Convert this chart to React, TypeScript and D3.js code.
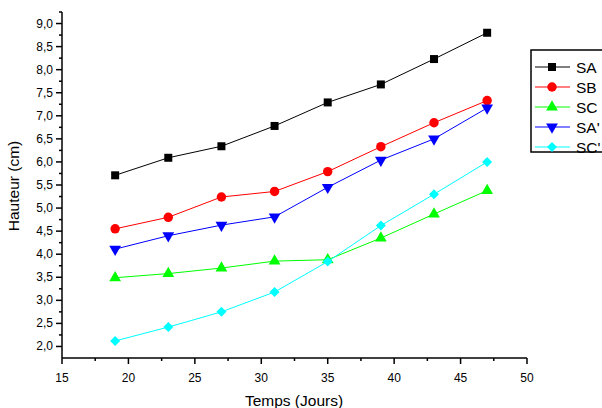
import React, { useRef, useEffect } from 'react';
import * as d3 from 'd3';

const days = [19, 23, 27, 31, 35, 39, 43, 47];
const SA = [5.71, 6.09, 6.34, 6.78, 7.29, 7.68, 8.23, 8.8];
const SB = [4.55, 4.8, 5.24, 5.36, 5.79, 6.33, 6.85, 7.33];
const SC = [3.49, 3.58, 3.7, 3.85, 3.88, 4.35, 4.87, 5.38];
const SAp = [4.11, 4.4, 4.63, 4.81, 5.45, 6.04, 6.5, 7.17];
const SCp = [2.12, 2.42, 2.75, 3.18, 3.84, 4.62, 5.3, 6.0];

const seriesNames = ['SA', 'SB', 'SC', "SA'", "SC'"];
const seriesValues = [SA, SB, SC, SAp, SCp];
const seriesColors = ['#000000', '#ff0000', '#00ff00', '#0000ff', '#00ffff'];
const seriesSymbols = [d3.symbolSquare, d3.symbolCircle, d3.symbolTriangle, d3.symbolTriangle, d3.symbolSquare];
const symbolSizes = [64, 70, 60, 60, 50];
const symbolRotations = [0, 0, 0, 180, 45];

const xTicks = [15, 20, 25, 30, 35, 40, 45, 50];
const yTicks = [2, 2.5, 3, 3.5, 4, 4.5, 5, 5.5, 6, 6.5, 7, 7.5, 8, 8.5, 9];

const FONT = 'Arial, "Liberation Sans", sans-serif';

const App = () => {
  const svgRef = useRef<SVGSVGElement>(null);

  useEffect(() => {
    const svg = d3.select(svgRef.current);
    svg.selectAll('*').remove();

    const x = d3.scaleLinear().domain([15, 50]).range([62, 527]);
    const y = d3.scaleLinear().domain([1.75, 9.25]).range([358, 12]);

    // X axis
    const xAxis = svg.append('g').attr('transform', 'translate(0,358)');
    xAxis.append('line')
      .attr('x1', 62).attr('x2', 527).attr('y1', 0).attr('y2', 0)
      .attr('stroke', '#000').attr('stroke-width', 1.5);
    d3.range(15, 50.01, 2.5).forEach(v => {
      const major = v % 5 === 0;
      xAxis.append('line')
        .attr('x1', x(v)).attr('x2', x(v)).attr('y1', 0).attr('y2', major ? 6 : 3)
        .attr('stroke', '#000').attr('stroke-width', 1.5);
    });
    xAxis.selectAll('text.tick')
      .data(xTicks)
      .enter()
      .append('text')
      .attr('x', d => x(d))
      .attr('y', 24)
      .attr('text-anchor', 'middle')
      .attr('font-family', FONT)
      .attr('font-size', 12)
      .attr('fill', '#000')
      .text(d => d);

    // Y axis
    const yAxis = svg.append('g').attr('transform', 'translate(62,0)');
    yAxis.append('line')
      .attr('x1', 0).attr('x2', 0).attr('y1', 12).attr('y2', 358)
      .attr('stroke', '#000').attr('stroke-width', 1.5);
    d3.range(2, 9.26, 0.25).forEach(v => {
      const major = Math.abs(v * 2 - Math.round(v * 2)) < 1e-6;
      yAxis.append('line')
        .attr('x1', major ? -6 : -3).attr('x2', 0).attr('y1', y(v)).attr('y2', y(v))
        .attr('stroke', '#000').attr('stroke-width', 1.5);
    });
    yAxis.selectAll('text.tick')
      .data(yTicks)
      .enter()
      .append('text')
      .attr('x', -9)
      .attr('y', d => y(d) + 4)
      .attr('text-anchor', 'end')
      .attr('font-family', FONT)
      .attr('font-size', 12)
      .attr('fill', '#000')
      .text(d => d.toFixed(1).replace('.', ','));

    // Axis titles
    svg.append('text')
      .attr('x', 294)
      .attr('y', 406)
      .attr('text-anchor', 'middle')
      .attr('font-family', FONT)
      .attr('font-size', 15.5)
      .text('Temps (Jours)');

    svg.append('text')
      .attr('transform', 'translate(19,186) rotate(-90)')
      .attr('text-anchor', 'middle')
      .attr('font-family', FONT)
      .attr('font-size', 15.5)
      .text('Hauteur (cm)');

    // Series
    const line = d3.line<number>()
      .x((d, i) => x(days[i]))
      .y(d => y(d));

    seriesValues.forEach((vals, s) => {
      svg.append('path')
        .attr('d', line(vals))
        .attr('fill', 'none')
        .attr('stroke', seriesColors[s])
        .attr('stroke-width', 1);
      const sym = d3.symbol().type(seriesSymbols[s]).size(symbolSizes[s]);
      svg.append('g')
        .selectAll('path')
        .data(vals)
        .enter()
        .append('path')
        .attr('d', sym())
        .attr('transform', (d, i) => `translate(${x(days[i])},${y(d)}) rotate(${symbolRotations[s]})`)
        .attr('fill', seriesColors[s]);
    });

    // Legend
    const legend = svg.append('g');
    legend.append('rect')
      .attr('x', 531).attr('y', 50).attr('width', 90).attr('height', 102)
      .attr('fill', '#fff').attr('stroke', '#000').attr('stroke-width', 1.5);
    seriesNames.forEach((name, s) => {
      const ly = 67 + s * 20;
      legend.append('line')
        .attr('x1', 535).attr('x2', 570).attr('y1', ly).attr('y2', ly)
        .attr('stroke', seriesColors[s]).attr('stroke-width', 1);
      const sym = d3.symbol().type(seriesSymbols[s]).size(symbolSizes[s]);
      legend.append('path')
        .attr('d', sym())
        .attr('transform', `translate(552,${ly}) rotate(${symbolRotations[s]})`)
        .attr('fill', seriesColors[s]);
      legend.append('text')
        .attr('x', 576)
        .attr('y', ly + 5.5)
        .attr('font-family', FONT)
        .attr('font-size', 15.5)
        .text(name);
    });
  }, []);

  return (
    <svg
      ref={svgRef}
      width={602}
      height={408}
      style={{ position: 'absolute', left: 0, top: 0, background: '#fff' }}
    ></svg>
  );
};

export default App;
